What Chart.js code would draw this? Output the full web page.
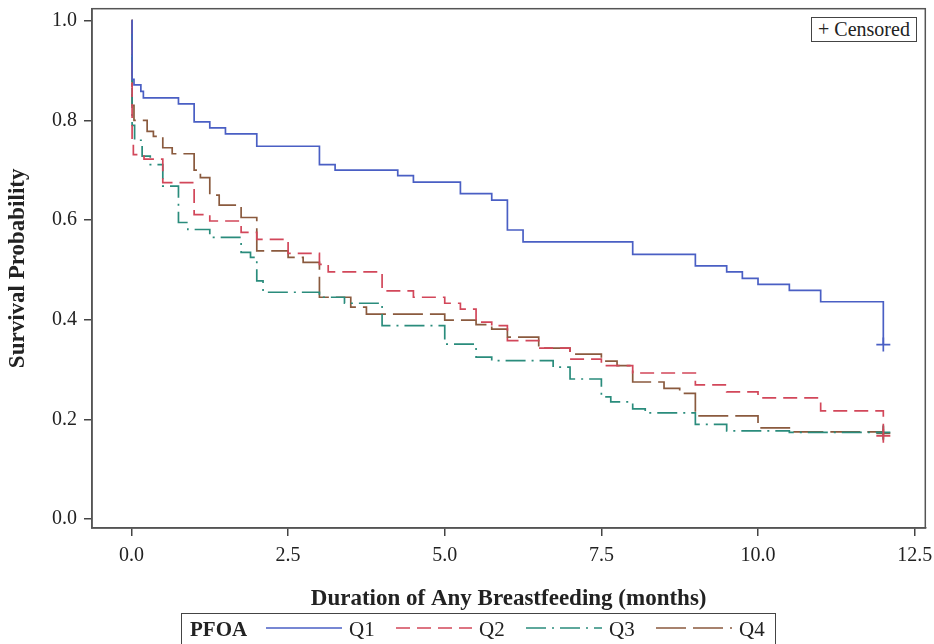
<!DOCTYPE html>
<html>
<head>
<meta charset="utf-8">
<script src="https://cdn.jsdelivr.net/npm/chart.js@4"></script>
<style>
    body { margin: 0; background: #fff; }
    #wrap { position: relative; width: 934px; height: 644px; overflow: hidden; font-family: "Liberation Serif", "Times New Roman", serif; }
    #censorBox { position: absolute; left: 811px; top: 17px; width: 104px; height: 23px; border: 1.5px solid #444;
        font-size: 20px; line-height: 23px; text-align: center; color: #222; background: #fff; }
    #legendBox { position: absolute; left: 181px; top: 613px; width: 595px; height: 40px; border: 1.5px solid #444;
        box-sizing: border-box; font-size: 21px; color: #222; }
    #legendBox .lg { position: absolute; top: 3px; line-height: 24px; }
    #legendBox svg { position: absolute; top: 9px; }
</style>
</head>
<body>
<div id="wrap">
    <canvas id="kmChart" width="934" height="644"></canvas>
    <div id="censorBox">+ Censored</div>
    <div id="legendBox"><b class="lg" style="left:8px">PFOA</b></div>
</div>
<script>
// Kaplan-Meier estimates (months, survival probability)
const q1Time = [0, 0.01, 0.04, 0.15, 0.19, 0.75, 1.0, 1.25, 1.5, 2.0, 3.0, 3.25, 4.25, 4.5, 5.25, 5.75, 6.0, 6.25, 8.0, 9.0, 9.5, 9.75, 10.0, 10.5, 11.0, 12.0];
const q1Surv = [1.0, 0.882, 0.871, 0.858, 0.845, 0.833, 0.797, 0.785, 0.773, 0.748, 0.711, 0.70, 0.689, 0.676, 0.653, 0.640, 0.58, 0.556, 0.531, 0.508, 0.496, 0.483, 0.471, 0.459, 0.436, 0.35];

const q2Time = [0, 0.01, 0.03, 0.2, 0.5, 1.0, 1.25, 1.75, 2.0, 2.5, 3.0, 3.14, 4.0, 4.5, 5.0, 5.25, 5.5, 5.75, 6.0, 6.5, 7.0, 7.5, 8.0, 9.0, 9.5, 10.0, 11.0, 12.0];
const q2Surv = [1.0, 0.76, 0.731, 0.722, 0.675, 0.611, 0.598, 0.575, 0.561, 0.533, 0.511, 0.496, 0.458, 0.445, 0.433, 0.421, 0.395, 0.388, 0.358, 0.343, 0.321, 0.308, 0.293, 0.269, 0.255, 0.243, 0.217, 0.167];

const q3Time = [0, 0.01, 0.05, 0.17, 0.3, 0.5, 0.75, 0.9, 1.25, 1.75, 1.9, 2.0, 2.1, 3.0, 3.4, 4.0, 5.0, 5.5, 5.75, 6.73, 7.0, 7.5, 7.65, 8.0, 8.2, 9.0, 9.5, 10.5, 12.0];
const q3Surv = [1.0, 0.79, 0.76, 0.728, 0.711, 0.668, 0.595, 0.581, 0.565, 0.535, 0.525, 0.478, 0.455, 0.445, 0.433, 0.388, 0.351, 0.325, 0.318, 0.305, 0.281, 0.245, 0.235, 0.221, 0.213, 0.19, 0.177, 0.174, 0.174];

const q4Time = [0, 0.01, 0.04, 0.25, 0.35, 0.5, 0.65, 1.0, 1.1, 1.25, 1.4, 1.75, 2.0, 2.5, 2.74, 3.0, 3.5, 3.75, 5.0, 5.5, 5.75, 6.0, 6.5, 7.0, 7.5, 7.75, 8.0, 8.5, 8.75, 9.0, 10.0, 10.5, 12.0];
const q4Surv = [1.0, 0.83, 0.80, 0.778, 0.768, 0.745, 0.733, 0.70, 0.685, 0.65, 0.63, 0.605, 0.538, 0.525, 0.515, 0.445, 0.425, 0.411, 0.399, 0.39, 0.381, 0.365, 0.343, 0.331, 0.317, 0.308, 0.275, 0.262, 0.252, 0.207, 0.183, 0.175, 0.172];

// censored observations (last follow-up)
const censorTime = [12.0, 12.0, 12.0, 12.0];
const censorSurv = [0.35, 0.167, 0.174, 0.172];

const groupLabels = ["Q1", "Q2", "Q3", "Q4"];
const xTicks = [0, 2.5, 5.0, 7.5, 10.0, 12.5];
const yTicks = [0, 0.2, 0.4, 0.6, 0.8, 1.0];

const colors = ["#4a5fc4", "#d2475a", "#2a8c7c", "#8a5a3e"];
const dashes = [[], [14, 7], [20, 6, 2, 6], [30, 7]];

const toPoints = (t, s) => t.map((v, i) => ({ x: v, y: s[i] }));
const series = [[q1Time, q1Surv], [q2Time, q2Surv], [q3Time, q3Surv], [q4Time, q4Surv]];

const datasets = series.map((d, i) => ({
    type: "line",
    label: groupLabels[i],
    data: toPoints(d[0], d[1]),
    stepped: "before",
    borderColor: colors[i],
    borderWidth: 1.7,
    borderDash: dashes[i],
    pointRadius: 0,
    fill: false
}));

// "+" marks for censored subjects
groupLabels.forEach((g, i) => {
    datasets.push({
        type: "scatter",
        label: g + " censored",
        data: [{ x: censorTime[i], y: censorSurv[i] }],
        pointStyle: "cross",
        pointRadius: 7,
        borderWidth: 1.7,
        borderColor: colors[i],
        backgroundColor: colors[i]
    });
});

// box around the plot area
const frame = {
    id: "frame",
    afterDraw(chart) {
        const a = chart.chartArea;
        const ctx = chart.ctx;
        ctx.save();
        ctx.strokeStyle = "#555";
        ctx.lineWidth = 1.5;
        ctx.strokeRect(a.left, a.top, a.right - a.left, a.bottom - a.top);
        ctx.restore();
    }
};

const serif = "'Liberation Serif', 'Times New Roman', serif";

new Chart(document.getElementById("kmChart").getContext("2d"), {
    type: "line",
    data: { datasets: datasets },
    plugins: [frame],
    options: {
        responsive: false,
        animation: false,
        layout: { padding: { top: 7, right: 7, left: 0, bottom: 27 } },
        plugins: { legend: { display: false }, tooltip: { enabled: false } },
        scales: {
            x: {
                type: "linear",
                min: -0.63,
                max: 12.67,
                afterBuildTicks: s => { s.ticks = xTicks.map(v => ({ value: v })); },
                afterFit: s => { s.height = 89; s.paddingLeft = 0; s.paddingRight = 0; },
                grid: { drawOnChartArea: false, tickLength: 8, color: "#444", lineWidth: 1.5 },
                border: { color: "#555", width: 1.5 },
                ticks: { color: "#222", padding: 8, font: { family: serif, size: 20 }, callback: v => v.toFixed(1) },
                title: { display: true, text: "Duration of Any Breastfeeding (months)", color: "#222",
                    font: { family: serif, size: 23, weight: "bold" } }
            },
            y: {
                type: "linear",
                min: -0.018,
                max: 1.024,
                afterBuildTicks: s => { s.ticks = yTicks.map(v => ({ value: v })); },
                afterFit: s => { s.width = 92; s.paddingTop = 0; s.paddingBottom = 0; },
                grid: { drawOnChartArea: false, tickLength: 8, color: "#444", lineWidth: 1.5 },
                border: { color: "#555", width: 1.5 },
                ticks: { color: "#222", padding: 7, font: { family: serif, size: 20 }, callback: v => v.toFixed(1) },
                title: { display: true, text: "Survival Probability", color: "#222",
                    font: { family: serif, size: 23, weight: "bold" } }
            }
        }
    }
});

// bottom legend with line samples, spread across the box like the original
const legendBox = document.getElementById("legendBox");
const sampleLeft = [84, 214, 344, 474];
const labelLeft = [167, 297, 427, 557];
const sampleWidth = 76;
groupLabels.forEach((g, i) => {
    const dash = dashes[i].join(",") || "none";
    legendBox.insertAdjacentHTML("beforeend",
        `<svg style="left:${sampleLeft[i]}px" width="${sampleWidth}" height="10"><line x1="0" y1="5" x2="${sampleWidth}" y2="5" stroke="${colors[i]}" stroke-width="1.7" stroke-dasharray="${dash}"/></svg>` +
        `<span class="lg" style="left:${labelLeft[i]}px">${g}</span>`);
});
</script>
</body>
</html>
